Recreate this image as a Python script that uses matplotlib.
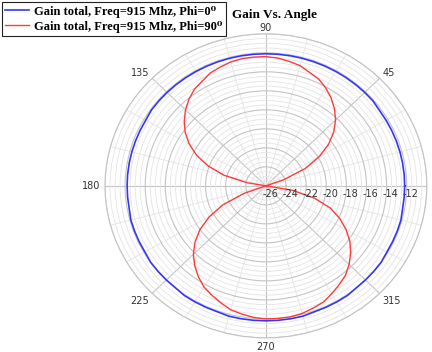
import numpy as np
import matplotlib
matplotlib.use('Agg')
import matplotlib.pyplot as plt

# gain (dB)
blue_deg = list(range(0, 361, 5))
blue_gain = [-12.2, -12.2, -12.2, -12.2, -12.2, -12.2, -12.2, -12.2, -12.1, -12.1,
             -12.1, -12.1, -12.1, -12.1, -12.1, -12.1, -12.1, -12.1, -12.1, -12.1,
             -12.1, -12.1, -12.1, -12.1, -12.1, -12.1, -12.1, -12.1, -12.1, -12.1,
             -12.2, -12.2, -12.2, -12.2, -12.2, -12.2, -12.2, -12.2, -12.2, -12.1,
             -12.1, -12.1, -12.1, -12.0, -12.0, -12.0, -12.0, -11.9, -11.9, -11.9,
             -11.9, -11.8, -11.8, -11.8, -11.8, -11.8, -11.8, -11.8, -11.9, -11.9,
             -11.9, -11.9, -12.0, -12.0, -12.0, -12.0, -12.1, -12.1, -12.1, -12.1,
             -12.2, -12.2, -12.2]

red_deg = list(range(0, 361, 5))
red_gain = [-26, -26, -26, -26, -24.1, -21.7, -19.9, -18.4, -17.2, -16.2,
            -15.4, -14.7, -14.1, -13.6, -13.3, -12.9, -12.7, -12.5, -12.4, -12.4,
            -12.4, -12.5, -12.7, -12.9, -13.3, -13.6, -14.1, -14.7, -15.4, -16.2,
            -17.2, -18.4, -19.9, -21.7, -24.1, -26, -26, -26, -26, -26,
            -23.7, -21.3, -19.5, -18.0, -16.8, -15.8, -15.0, -14.3, -13.7, -13.3,
            -12.9, -12.5, -12.3, -12.1, -12.0, -12.0, -12.0, -12.1, -12.3, -12.5,
            -12.9, -13.3, -13.7, -14.3, -15.0, -15.8, -16.8, -17.9, -19.2, -21.0,
            -23.3, -26, -26]

r_ticks = [-26, -24, -22, -20, -18, -16, -14, -12, -10]
r_labels = ['-26', '-24', '-22', '-20', '-18', '-16', '-14', '-12']
theta_ticks = [0, 45, 90, 135, 180, 225, 270, 315]
theta_labels = ['0', '45', '90', '135', '180', '225', '270', '315']

label0 = 'Gain total, Freq=915 Mhz, Phi=0\u2070'
label90 = 'Gain total, Freq=915 Mhz, Phi=90\u2070'

fig = plt.figure(figsize=(4.32, 3.52), dpi=100)
ax = fig.add_axes([0.243, 0.040, 0.745, 0.864], projection='polar')
ax.set_aspect('auto')

ax.plot(np.deg2rad(blue_deg), blue_gain, color='#3535ff', lw=1.2, label=label0)
ax.plot(np.deg2rad(red_deg), red_gain, color='#ff3a3a', lw=1.0, label=label90)

ax.set_rlim(-26, -10)
ax.set_yticks(r_ticks)
ax.set_yticks(np.arange(-26, -10, 0.5), minor=True)
ax.set_yticklabels([])
ax.yaxis.grid(True, which='major', color='#c4c4c4', lw=0.8)
ax.yaxis.grid(True, which='minor', color='#e4e4e4', lw=0.6)

ax.set_xticks(np.deg2rad(theta_ticks))
ax.set_xticklabels([])
ax.set_xticks(np.deg2rad(np.arange(0, 360, 15)), minor=True)
ax.xaxis.grid(True, which='major', color='#c4c4c4', lw=0.8)
ax.xaxis.grid(True, which='minor', color='#e4e4e4', lw=0.6)
ax.tick_params(axis='x', which='both', length=0)
ax.spines['polar'].set_color('#c4c4c4')
ax.spines['polar'].set_linewidth(0.8)

# angle labels just outside the outer ring
for t, lab in zip(theta_ticks, theta_labels):
    c, s = np.cos(np.deg2rad(t)), np.sin(np.deg2rad(t))
    ha = 'left' if c > 0.3 else ('right' if c < -0.3 else 'center')
    va = 'bottom' if s > 0.3 else ('top' if s < -0.3 else 'center')
    dy = 0.8 * s if s > 0 else 3 * s
    ax.annotate(lab, xy=(np.deg2rad(t), -10), xytext=(3 * c, dy),
                textcoords='offset points', ha=ha, va=va, fontsize=7,
                color='#333333', annotation_clip=False)

for r, lab in zip(r_ticks, r_labels):
    ax.annotate(lab, xy=(0, r), xytext=(3, -2), textcoords='offset points',
                ha='center', va='top', fontsize=7, color='#333333')

leg = ax.legend(loc='upper left', bbox_to_anchor=(0.004, 0.995),
                bbox_transform=fig.transFigure, fancybox=False,
                edgecolor='#222222', framealpha=1, handlelength=1.9,
                handletextpad=0.4, labelspacing=0.25, borderpad=0.3,
                borderaxespad=0,
                prop={'family': ['Liberation Serif', 'DejaVu Serif'],
                      'weight': 'bold', 'size': 9})
leg.get_frame().set_linewidth(0.8)

fig.text(232 / 432, 1 - 15 / 352, 'Gain Vs. Angle', ha='left', va='center',
         family=['Liberation Serif', 'DejaVu Serif'], weight='bold', fontsize=9.5)

fig.savefig('out.png', dpi=100)
